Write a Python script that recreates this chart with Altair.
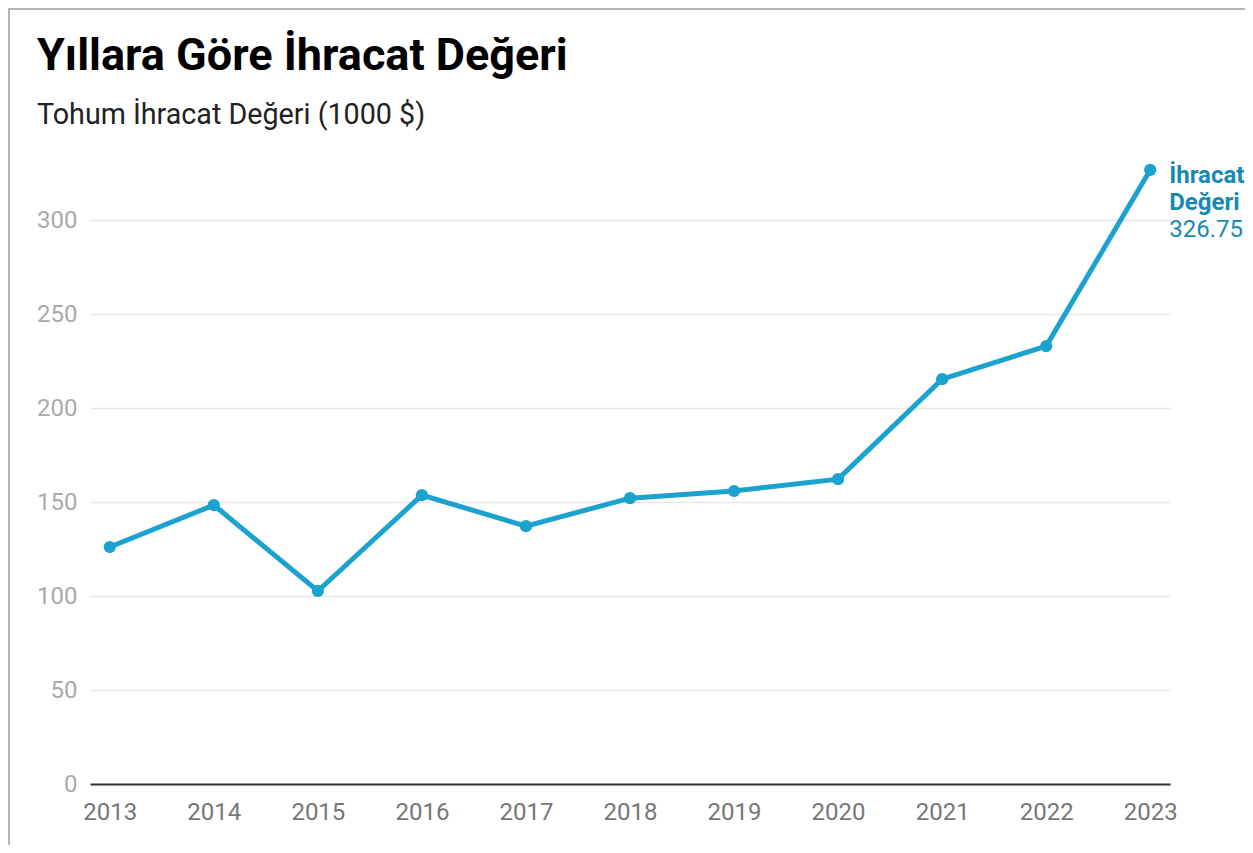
import altair as alt
import pandas as pd

years = [2013, 2014, 2015, 2016, 2017, 2018, 2019, 2020, 2021, 2022, 2023]
values = [126.1, 148.4, 102.7, 153.7, 137.2, 152.1, 155.9, 162.2, 215.4, 233.0, 326.75]
series_name = ["İhracat", "Değeri"]
title_text = "Yıllara Göre İhracat Değeri"
subtitle_text = "Tohum İhracat Değeri (1000 $)"
y_ticks = [0, 50, 100, 150, 200, 250, 300]

LINE = "#1ba2cf"
LABEL = "#168ab3"
FONT = "Roboto"

df = pd.DataFrame({"year": years, "value": values})
last = df.tail(1).copy()
last["name"] = [series_name]
last["vtext"] = [f"{values[-1]:.2f}"]

W, H = 1080, 639
PB = 61

x = alt.X("year:O", title=None,
          scale=alt.Scale(type="point", padding=0.19),
          axis=alt.Axis(labelAngle=0, labelFont=FONT, labelFontSize=24, labelColor="#777777",
                        domain=True, domainColor="#333333", domainWidth=2, ticks=False,
                        tickSize=0, labelPadding=16, grid=False))
y = alt.Y("value:Q", title=None,
          scale=alt.Scale(domain=[0, 340], nice=False, zero=True),
          axis=alt.Axis(values=y_ticks, labelFont=FONT, labelFontSize=24, labelColor="#aaaaaa",
                        domain=False, ticks=False, tickSize=0, labelPadding=13,
                        grid=True, gridColor="#e6e6e6", gridWidth=1.5))

base = alt.Chart(df)
line = base.mark_line(color=LINE, strokeWidth=5).encode(x=x, y=y)
pts = base.mark_circle(color=LINE, size=150, opacity=1).encode(x=x, y=y)

lab_base = alt.Chart(last)
name_txt = lab_base.mark_text(align="left", baseline="alphabetic", dx=19, dy=13,
                              font=FONT, fontSize=24, fontWeight="bold", color=LABEL,
                              lineHeight=27).encode(x=x, y=y, text="name")
val_txt = lab_base.mark_text(align="left", baseline="alphabetic", dx=19, dy=67,
                             font=FONT, fontSize=24, color=LABEL).encode(x=x, y=y, text="vtext")

frame = alt.Chart(pd.DataFrame({"k": [0]}))
left_border = frame.mark_rule(color="#b3b3b3", strokeWidth=2).encode(
    x=alt.value(-81), y=alt.value(-137), y2=alt.value(H + PB))
top_border = frame.mark_rule(color="#b3b3b3", strokeWidth=2).encode(
    x=alt.value(-81), x2=alt.value(W + 90), y=alt.value(-136))

chart = alt.layer(line, pts, name_txt, val_txt, left_border, top_border).properties(
    width=W, height=H,
    autosize=alt.AutoSizeParams(type="none"),
    padding={"left": 82, "top": 137, "right": 75, "bottom": PB},
    title=alt.TitleParams(text=title_text, subtitle=subtitle_text, anchor="start",
                          frame="group", dx=-53,
                          font=FONT, fontSize=45, fontWeight="bold", color="#000000",
                          subtitleFont=FONT, subtitleFontSize=28.7, subtitleColor="#222222",
                          subtitlePadding=22, offset=-123),
).configure(background="white").configure_view(strokeWidth=0, stroke="transparent")

chart.save("out.html", embed_options={"renderer": "svg", "actions": False})
